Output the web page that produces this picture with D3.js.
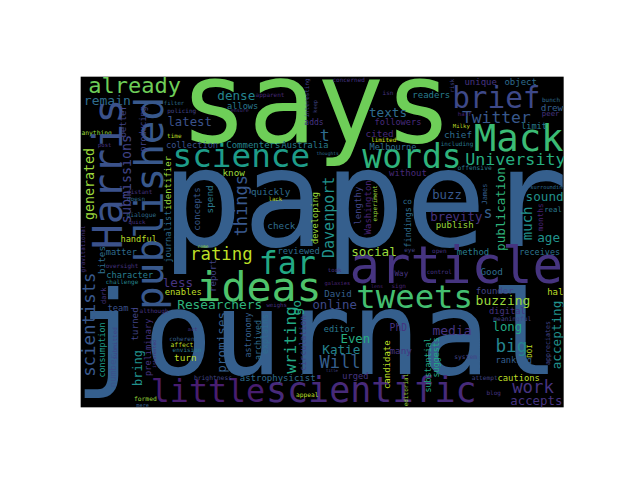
<!DOCTYPE html>
<html>
  <head>
    <title>word cloud</title>
    <meta charset="UTF-8" />
    <script src="https://d3js.org/d3.v7.min.js"></script>
    <style>
        body { margin: 0; background: #fff; }
        .word { font-family: "DejaVu Sans Mono", monospace; }
    </style>
  </head>
  <body>
    <script>
        // layout of the cloud, in cloud units (1458 x 1011 canvas)
        // horizontal words: [text, centre x, baseline y, font size, tone]
        var horizontalWords = [
            ["says", 715, 203, 340, 0.78], ["paper", 860, 515, 405, 0.30],
            ["journal", 716, 900, 345, 0.30], ["article", 1135, 628, 152, 0.15],
            ["little", 390, 985, 95, 0.08], ["scientific", 880, 983, 105, 0.12],
            ["ideas", 543, 680, 125, 0.72], ["Mack", 1322, 232, 112, 0.68],
            ["brief", 1255, 103, 88, 0.22], ["words", 1002, 282, 99, 0.65],
            ["science", 490, 280, 98, 0.55], ["far", 628, 600, 95, 0.60],
            ["tweets", 1010, 702, 97, 0.70], ["Twitter", 1255, 148, 49, 0.27],
            ["University", 1312, 272, 50, 0.62], ["already", 170, 57, 66, 0.78],
            ["remain", 88, 92, 39, 0.35], ["dense", 475, 78, 38, 0.45],
            ["allows", 494, 104, 26, 0.40], ["latest", 335, 155, 37, 0.25],
            ["texts", 930, 130, 38, 0.35], ["followers", 960, 152, 26, 0.12],
            ["adds", 708, 153, 24, 0.15], ["t", 740, 200, 50, 0.35],
            ["cited", 905, 188, 28, 0.12], ["limited", 917, 205, 18, 0.93],
            ["Melbourne", 945, 227, 26, 0.35], ["thoughts", 749, 243, 14, 0.35],
            ["Australia", 681, 222, 26, 0.42], ["Commenters", 526, 222, 27, 0.45],
            ["collection", 342, 222, 26, 0.25], ["filter", 288, 93, 17, 0.35],
            ["policing", 311, 117, 18, 0.20], ["ensure", 485, 113, 15, 0.15],
            ["apparent", 576, 68, 18, 0.12], ["concerned", 812, 25, 18, 0.15],
            ["isn", 930, 63, 18, 0.15], ["readers", 1060, 72, 27, 0.42],
            ["unique", 1208, 32, 27, 0.15], ["object", 1328, 32, 27, 0.35],
            ["bunch", 1419, 85, 18, 0.35], ["drew", 1422, 112, 28, 0.30],
            ["peer", 1418, 127, 22, 0.15], ["half", 1160, 127, 17, 0.10],
            ["limit", 1368, 165, 26, 0.42], ["Milky", 1150, 163, 17, 0.90],
            ["chief", 1140, 192, 28, 0.35], ["including", 1137, 217, 18, 0.40],
            ["offensive", 1190, 289, 19, 0.40], ["surrounding", 1410, 345, 16, 0.35],
            ["without", 990, 306, 27, 0.12], ["buzz", 1107, 375, 37, 0.27],
            ["sound", 1400, 382, 38, 0.50], ["real", 1425, 415, 22, 0.40],
            ["brevity", 1135, 440, 37, 0.15], ["s", 1230, 432, 45, 0.30],
            ["publish", 1130, 461, 27, 0.85], ["age", 1412, 505, 38, 0.50],
            ["receives", 1385, 542, 25.5, 0.38], ["method", 1185, 542, 27, 0.42],
            ["open", 1084, 537, 18, 0.15], ["eye", 995, 533, 18, 0.20],
            ["co", 988, 390, 23, 0.35], ["control", 1084, 599, 18, 0.15],
            ["Good", 1241, 603, 28, 0.35], ["founder", 1250, 660, 27, 0.20],
            ["halo", 1440, 662, 27, 0.90], ["buzzing", 1275, 694, 39, 0.85],
            ["digital", 1288, 721, 26, 0.15], ["meaningful", 1303, 741, 19, 0.20],
            ["long", 1288, 770, 37, 0.60], ["big", 1300, 834, 53, 0.45],
            ["ranking", 1307, 868, 26, 0.30], ["system", 1163, 855, 19, 0.20],
            ["attempt", 1220, 917, 18.5, 0.20], ["cautions", 1322, 922, 26.5, 0.90],
            ["work", 1365, 956, 52, 0.15], ["accepts", 1375, 993, 37, 0.15],
            ["blog", 1247, 963, 18, 0.15], ["appeal", 688, 970, 18.7, 0.90],
            ["formed", 202, 980, 19, 0.85], ["mere", 194, 1000, 16, 0.30],
            ["brightness", 405, 918, 19, 0.20], ["astrophysicist", 599, 922, 27, 0.35],
            ["urged", 832, 915, 26, 0.15], ["title", 762, 895, 12, 0.20],
            ["many", 968, 840, 28, 0.15], ["PhD", 961, 770, 29, 0.15],
            ["media", 1122, 782, 39, 0.15], ["editor", 784, 773, 26, 0.40],
            ["Even", 832, 808, 37, 0.62], ["Katie", 790, 840, 38, 0.45],
            ["Will", 786, 882, 51, 0.30], ["online", 770, 705, 37, 0.22],
            ["David", 780, 668, 27.6, 0.30], ["galaxies", 778, 632, 16, 0.10],
            ["took", 770, 595, 17, 0.15], ["Way", 970, 605, 23, 0.15],
            ["lens", 897, 643, 15, 0.10], ["sign", 962, 643, 18, 0.10],
            ["reviewed", 662, 540, 26.5, 0.35], ["check", 610, 465, 28, 0.35],
            ["quickly", 578, 362, 28, 0.35], ["lack", 592, 380, 17, 0.90],
            ["social", 888, 545, 38, 0.85], ["rating", 430, 557, 52, 0.90],
            ["know", 467, 305, 28, 0.85], ["anything", 56, 182, 19, 0.85],
            ["post", 80, 218, 17, 0.15], ["time", 289, 192, 18, 0.90],
            ["distant", 185, 360, 18, 0.15], ["doesn", 174, 382, 18, 0.35],
            ["dialogue", 190, 428, 18.5, 0.35], ["quick", 177, 450, 17, 0.15],
            ["handful", 182, 504, 26, 0.90], ["matter", 130, 542, 26, 0.35],
            ["come", 375, 523, 14, 0.85], ["oversight", 132, 583, 18, 0.15],
            ["character", 155, 612, 26, 0.42], ["challenge", 132, 630, 18, 0.45],
            ["less", 300, 640, 38, 0.15], ["enables", 316, 662, 26.5, 0.90],
            ["team", 120, 710, 26, 0.25], ["Researchers", 425, 705, 38.5, 0.65],
            ["although", 228, 718, 18, 0.15], ["coherent", 317, 800, 18, 0.30],
            ["act", 344, 770, 16, 0.15], ["affect", 312, 818, 19, 0.90],
            ["envision", 327, 835, 18, 0.40], ["turn", 322, 860, 28, 0.90],
            ["weighs", 596, 700, 17, 0.15]
        ];

        // vertical words (read bottom to top): [text, baseline x, centre y, font size, tone]
        var verticalWords = [
            ["Harris", 133, 300, 125, 0.25], ["published", 255, 388, 118, 0.27],
            ["interesting", 692, 72, 17.7, 0.20], ["keep", 718, 97, 16, 0.20],
            ["risk", 1128, 35, 17, 0.20], ["publication", 1280, 405, 38, 0.65],
            ["James", 1228, 360, 21, 0.30], ["much", 1363, 448, 42, 0.50],
            ["months", 1395, 430, 23, 0.10], ["findings", 1000, 460, 25, 0.35],
            ["accepting", 1450, 783, 38, 0.50], ["DOI", 1362, 831, 22, 0.90],
            ["appreciates", 1416, 807, 20, 0.20], ["editorial", 990, 948, 18, 0.85],
            ["candidate", 935, 872, 27, 0.90], ["substantial", 1059, 873, 25, 0.60],
            ["suggests", 1083, 850, 25, 0.60], ["circulation", 685, 808, 25, 0.20],
            ["writing", 655, 798, 48, 0.60], ["go", 670, 701, 39, 0.60],
            ["developing", 720, 432, 26, 0.85], ["Davenport", 768, 430, 45, 0.50],
            ["lengthy", 848, 395, 27, 0.20], ["Washington", 880, 400, 27, 0.10],
            ["experiment", 897, 388, 18, 0.85], ["things", 508, 395, 51, 0.27],
            ["concepts", 365, 405, 27, 0.27], ["spend", 405, 376, 28, 0.40],
            ["identifier", 280, 327, 27, 0.85], ["journalist", 280, 488, 26, 0.35],
            ["submissions", 158, 315, 40, 0.20], ["producing", 205, 165, 25, 0.20],
            ["better", 145, 142, 27, 0.20], ["generated", 48, 330, 40, 0.85],
            ["bites", 80, 558, 28, 0.35], ["gravitational", 22, 525, 18, 0.15],
            ["report", 413, 605, 27, 0.20], ["scientists", 52, 752, 52, 0.27],
            ["dark", 85, 665, 21, 0.15], ["turned", 180, 750, 28, 0.20],
            ["preliminary", 220, 820, 26, 0.15], ["consumption", 82, 828, 25, 0.55],
            ["number", 113, 890, 28, 0.25], ["submitted", 118, 808, 18, 0.20],
            ["bring", 192, 882, 36, 0.50], ["interested", 235, 840, 14, 0.15],
            ["promises", 443, 805, 38, 0.30], ["astronomy", 518, 783, 25, 0.30],
            ["archived", 548, 798, 25, 0.35], ["explains", 570, 780, 25, 0.35]
        ];

        var cloudBox = [8, 8, 1457, 1000];   // canvas edges in cloud units

        var width = 640, height = 480;

        var svg = d3.select("body")
            .append("svg")
            .attr("width", width)
            .attr("height", height);

        var x = d3.scaleLinear().domain([0, 1458]).range([78, 564]);
        var y = d3.scaleLinear().domain([0, 1011]).range([74, 411]);
        var fs = d3.scaleLinear().domain([0, 3]).range([0, 1]);

        svg.append("defs").append("clipPath")
            .attr("id", "cloudclip")
            .append("rect")
            .attr("x", x(cloudBox[0]))
            .attr("y", y(cloudBox[1]))
            .attr("width", x(cloudBox[2]) - x(cloudBox[0]))
            .attr("height", y(cloudBox[3]) - y(cloudBox[1]));

        svg.append("rect")
            .attr("x", x(cloudBox[0]))
            .attr("y", y(cloudBox[1]))
            .attr("width", x(cloudBox[2]) - x(cloudBox[0]))
            .attr("height", y(cloudBox[3]) - y(cloudBox[1]))
            .attr("fill", "#000");

        var g = svg.append("g").attr("clip-path", "url(#cloudclip)");

        g.selectAll("text.h")
            .data(horizontalWords)
            .enter()
            .append("text")
            .attr("class", "word h")
            .attr("x", d => x(d[1]))
            .attr("y", d => y(d[2]))
            .attr("text-anchor", "middle")
            .attr("font-size", d => fs(d[3]))
            .attr("fill", d => d3.interpolateViridis(d[4]))
            .text(d => d[0]);

        g.selectAll("text.v")
            .data(verticalWords)
            .enter()
            .append("text")
            .attr("class", "word v")
            .attr("transform", d => "translate(" + x(d[1]) + "," + y(d[2]) + ") rotate(-90)")
            .attr("text-anchor", "middle")
            .attr("font-size", d => fs(d[3]))
            .attr("fill", d => d3.interpolateViridis(d[4]))
            .text(d => d[0]);
    </script>
  </body>
</html>
